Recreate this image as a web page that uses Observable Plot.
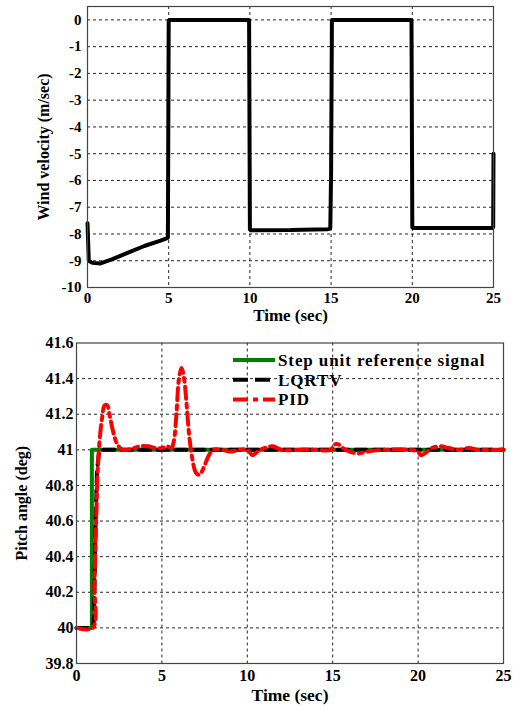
<!DOCTYPE html>
<html><head><meta charset="utf-8">
<script src="https://cdn.jsdelivr.net/npm/d3@7"></script>
<script src="https://cdn.jsdelivr.net/npm/@observablehq/plot@0.6"></script>
<style>
html,body{margin:0;padding:0;background:#fff;}
#wrap{position:relative;width:513px;height:710px;}
#wrap svg{display:block;}
#wrap svg text{font-family:"Liberation Serif","Times New Roman",serif !important;font-weight:bold;}
</style></head><body><div id="wrap"></div>
<script>
// ---- Top chart: wind velocity ----
const windTime     = [0, 0.08, 0.3, 0.8, 1.5, 2.5, 3.5, 4.5, 4.95, 5.0, 9.95, 10.0, 12.5, 14.8, 14.95, 15.0, 15.05, 19.95, 20.0, 24.98, 25.0];
const windVelocity = [-7.6, -9.0, -9.08, -9.1, -8.95, -8.7, -8.45, -8.25, -8.15, 0, 0, -7.86, -7.85, -7.82, -7.8, -5.7, 0, 0, -7.78, -7.78, -5.0];
const windXTicks = [0, 5, 10, 15, 20, 25];
const windYTicks = [0, -1, -2, -3, -4, -5, -6, -7, -8, -9, -10];

// ---- Bottom chart: pitch angle ----
const stepTime  = [0, 0.9, 0.9, 25];
const stepValue = [40, 40, 41, 41];
const lqrTime  = [0, 1.0, 1.05, 1.12, 1.2, 1.3, 1.45, 25];
const lqrValue = [40, 40, 40.2, 40.6, 40.88, 40.97, 41.0, 41.0];
const pidTime  = [0, 0.95, 1.05, 1.15, 1.25, 1.35, 1.5, 1.65, 1.8, 1.95, 2.15, 2.4, 2.7, 3.2, 3.7, 4.2, 4.6, 5.0, 5.3, 5.55, 5.7, 5.85, 6.0, 6.15, 6.3, 6.45, 6.6, 6.8, 7.0, 7.2, 7.45, 7.7, 8.0, 8.5, 9.0, 9.5, 10.0, 10.3, 10.6, 11.0, 11.5, 12.0, 13.0, 14.0, 14.9, 15.1, 15.35, 15.6, 16.0, 16.5, 17.0, 18.0, 19.5, 20.0, 20.15, 20.4, 20.8, 21.3, 21.8, 22.3, 23.0, 23.5, 25];
const pidValue = [40, 40, 40.25, 40.6, 40.9, 41.05, 41.18, 41.25, 41.25, 41.19, 41.1, 41.03, 41.0, 41.005, 41.02, 41.02, 41.01, 41.01, 41.02, 41.01, 41.05, 41.2, 41.4, 41.46, 41.4, 41.25, 41.08, 40.94, 40.87, 40.86, 40.9, 40.96, 41.0, 41.0, 40.99, 41.0, 41.0, 40.97, 40.99, 41.01, 41.02, 41.0, 41.0, 41.0, 41.0, 41.03, 41.03, 41.01, 40.99, 40.98, 40.99, 41.0, 41.0, 40.99, 40.97, 40.98, 41.01, 41.02, 41.01, 41.0, 41.01, 41.0, 41.0];
const pitchXTicks = [0, 5, 10, 15, 20, 25];
const pitchYTicks = [39.8, 40, 40.2, 40.4, 40.6, 40.8, 41, 41.2, 41.4, 41.6];
const seriesNames = ["Step unit reference signal", "LQRTV", "PID"];

const FONT = "Liberation Serif, Times New Roman, serif";
const gridStyle = {stroke: "#000", strokeOpacity: 0.85, strokeDasharray: "3,3", strokeWidth: 1};
const fmt = d => String(d);

const windData = windTime.map((t, i) => ({t, v: windVelocity[i]}));
const stepData = stepTime.map((t, i) => ({t, v: stepValue[i]}));
const lqrData = lqrTime.map((t, i) => ({t, v: lqrValue[i]}));
const pidData = pidTime.map((t, i) => ({t, v: pidValue[i]}));

const topPlot = Plot.plot({
  width: 513, height: 330,
  marginTop: 6, marginBottom: 43, marginLeft: 87, marginRight: 20,
  style: {fontFamily: FONT, fontWeight: "bold", color: "#000", background: "#fff", overflow: "visible"},
  x: {domain: [0, 25]},
  y: {domain: [-10, 0.5]},
  marks: [
    Plot.gridX(windXTicks.slice(1, -1), gridStyle),
    Plot.gridY(windYTicks.slice(0, -1), gridStyle),
    Plot.line(windData, {x: "t", y: "v", stroke: "#000", strokeWidth: 4, strokeLinejoin: "miter"}),
    Plot.frame({stroke: "#444", strokeWidth: 1.2}),
    Plot.axisX(windXTicks, {tickSize: 0, tickPadding: 5, fontSize: 15, fontFamily: FONT, tickFormat: fmt, label: null}),
    Plot.axisY(windYTicks, {tickSize: 0, tickPadding: 6, fontSize: 15, fontFamily: FONT, tickFormat: fmt, label: null}),
    Plot.text(["Time (sec)"], {frameAnchor: "bottom", lineAnchor: "middle", dy: 28, text: d => d, fontSize: 17, fontWeight: "bold", fontFamily: FONT}),
    Plot.text(["Wind velocity (m/sec)"], {frameAnchor: "left", textAnchor: "middle", dx: -44, rotate: -90, text: d => d, fontSize: 16, fontWeight: "bold", fontFamily: FONT})
  ]
});

const bottomPlot = Plot.plot({
  width: 513, height: 380,
  marginTop: 12.5, marginBottom: 47, marginLeft: 76, marginRight: 10,
  style: {fontFamily: FONT, fontWeight: "bold", color: "#000", background: "#fff", overflow: "visible"},
  x: {domain: [0, 25]},
  y: {domain: [39.8, 41.6]},
  marks: [
    Plot.gridX(pitchXTicks.slice(1, -1), gridStyle),
    Plot.gridY(pitchYTicks.slice(1, -1), gridStyle),
    Plot.line(stepData, {x: "t", y: "v", stroke: "#008000", strokeWidth: 4}),
    Plot.line(lqrData, {x: "t", y: "v", stroke: "#000", strokeWidth: 4, strokeDasharray: "11,7"}),
    Plot.line(pidData, {x: "t", y: "v", stroke: "#ff0000", strokeWidth: 4, strokeDasharray: "12,5,4,5", curve: "catmull-rom"}),
    Plot.frame({stroke: "#444", strokeWidth: 1.2}),
    Plot.axisX(pitchXTicks, {tickSize: 0, tickPadding: 6, fontSize: 16, fontFamily: FONT, tickFormat: fmt, label: null}),
    Plot.axisY(pitchYTicks, {tickSize: 0, tickPadding: 3, fontSize: 16, fontFamily: FONT, tickFormat: fmt, label: null}),
    Plot.text(["Time (sec)"], {frameAnchor: "bottom", lineAnchor: "middle", dy: 32, text: d => d, fontSize: 17.5, fontWeight: "bold", fontFamily: FONT}),
    Plot.text(["Pitch angle (deg)"], {frameAnchor: "left", textAnchor: "middle", dx: -55, rotate: -90, text: d => d, fontSize: 16, fontWeight: "bold", fontFamily: FONT})
  ]
});

const wrap = document.getElementById("wrap");
wrap.appendChild(topPlot);
const bottomHolder = document.createElement("div");
bottomHolder.style.position = "relative";
bottomHolder.appendChild(bottomPlot);
wrap.appendChild(bottomHolder);

// Legend overlay (top-right inside the pitch plot)
const legendStyles = [
  {stroke: "#008000", dash: null},
  {stroke: "#000", dash: "15,7"},
  {stroke: "#ff0000", dash: "15,5,5,5"}
];
const lg = d3.create("svg").attr("width", 513).attr("height", 100)
  .style("position", "absolute").style("left", "0px").style("top", "0px");
seriesNames.forEach((name, i) => {
  const y = 30 + i * 19.7;
  lg.append("line").attr("x1", 233).attr("x2", 275).attr("y1", y).attr("y2", y)
    .attr("stroke", legendStyles[i].stroke).attr("stroke-width", 4)
    .attr("stroke-dasharray", legendStyles[i].dash);
  lg.append("text").attr("x", 278).attr("y", y).attr("dy", "0.35em")
    .attr("font-family", FONT).attr("font-weight", "bold").attr("font-size", 17)
    .attr("letter-spacing", "0.9px")
    .text(name);
});
bottomHolder.appendChild(lg.node());
</script>
</body></html>
